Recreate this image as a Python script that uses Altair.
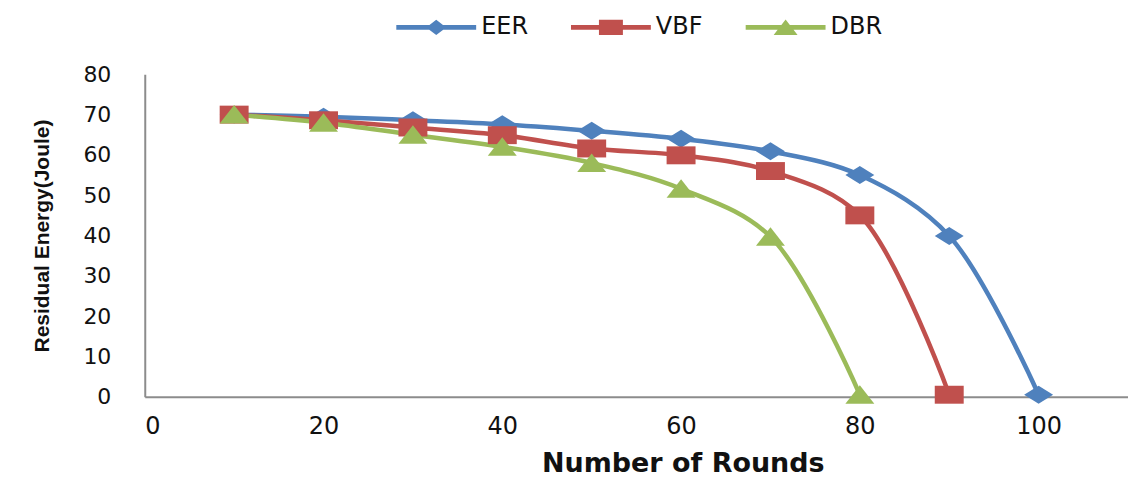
import altair as alt
import pandas as pd

rounds = [10, 20, 30, 40, 50, 60, 70, 80, 90, 100]
eer = [70, 69.5, 68.6, 67.6, 66, 64, 60.9, 55, 39.9, 0.5]
vbf = [70, 68.6, 66.8, 64.9, 61.6, 59.9, 56, 45, 0.5]
dbr = [70, 68, 65, 62, 58, 51.6, 39.7, 0.5]
series = ["EER", "VBF", "DBR"]
colors = ["#4F81BD", "#C0504D", "#9BBB59"]

rows = []
for name, vals in zip(series, [eer, vbf, dbr]):
    for r, v in zip(rounds, vals):
        rows.append({"Rounds": r, "Energy": v, "Series": name})
df = pd.DataFrame(rows)

# marker shapes (wider than tall, like the reference)
m_diamond = "M0,-0.62L1,0L0,0.62L-1,0Z"
m_square = "M-1,-0.62L1,-0.62L1,0.62L-1,0.62Z"
m_triangle = "M0,-0.66L1,0.62L-1,0.62Z"
markers = [m_diamond, m_square, m_triangle]

# legend symbols: line + marker
bar = "M-1,-0.06L1,-0.06L1,0.06L-1,0.06Z"
l_diamond = bar + "M0,-0.19L0.25,0L0,0.19L-0.25,0Z"
l_square = bar + "M-0.3,-0.19L0.3,-0.19L0.3,0.19L-0.3,0.19Z"
l_triangle = bar + "M0,-0.2L0.3,0.19L-0.3,0.19Z"

tick_font = "DejaVu Sans"

x = alt.X(
    "Rounds:Q",
    scale=alt.Scale(domain=[0, 110], nice=False),
    axis=alt.Axis(
        values=[0, 20, 40, 60, 80, 100],
        title="Number of Rounds",
        grid=False,
        ticks=False,
        labelPadding=18,
        labelFont=tick_font,
        labelFontSize=24,
        labelColor="#111111",
        titleFont="DejaVu Sans",
        titleFontSize=27,
        titleFontWeight="bold",
        titleColor="#111111",
        titleX=539,
        titleAlign="center",
        titlePadding=12,
        domainColor="#8c8c8c",
        domainWidth=2,
    ),
)
y = alt.Y(
    "Energy:Q",
    scale=alt.Scale(domain=[0, 80], nice=False),
    axis=alt.Axis(
        values=[0, 10, 20, 30, 40, 50, 60, 70, 80],
        title="Residual Energy(Joule)",
        grid=False,
        ticks=False,
        labelPadding=34,
        labelFont=tick_font,
        labelFontSize=22,
        labelColor="#111111",
        titleFont="Liberation Sans Narrow, Liberation Sans",
        titleFontSize=21,
        titleFontWeight="bold",
        titleColor="#111111",
        titlePadding=30,
        domainColor="#8c8c8c",
        domainWidth=2,
    ),
)

color_scale = alt.Scale(domain=series, range=colors)

leg = alt.Legend(
    title=None,
    orient="none",
    direction="horizontal",
    legendX=252,
    legendY=-87,
    symbolSize=6400,
    symbolOpacity=1,
    symbolStrokeWidth=0,
    labelFont="DejaVu Sans",
    labelFontSize=24,
    labelColor="#111111",
    labelOffset=5,
    columnPadding=38,
    gridAlign="all",
    padding=0,
)

color_enc = alt.Color("Series:N", scale=color_scale, sort=series, legend=leg)

lines = alt.Chart(df).mark_line(interpolate="catmull-rom", strokeWidth=4.5).encode(
    x=x, y=y, color=color_enc
)

point_layers = [
    alt.Chart(df)
    .transform_filter(alt.datum.Series == name)
    .mark_point(filled=True, size=841, opacity=1, shape=shp)
    .encode(x=x, y=y, color=color_enc)
    for name, shp in zip(series, markers)
]

legend_layer = alt.Chart(df).mark_point(filled=True, opacity=0).encode(
    x=x,
    y=y,
    color=color_enc,
    shape=alt.Shape(
        "Series:N",
        sort=series,
        scale=alt.Scale(domain=series, range=[l_diamond, l_square, l_triangle]),
        legend=leg,
    ),
)

chart = (
    alt.layer(lines, *point_layers, legend_layer)
    .properties(
        width=985,
        height=323,
        padding={"left": 137, "top": 66, "right": 0, "bottom": 100},
        autosize=alt.AutoSizeParams(type="none"),
        background="white",
    )
    .configure_view(stroke=None)
)

chart.save("out.html", embed_options={"renderer": "svg", "actions": False})
